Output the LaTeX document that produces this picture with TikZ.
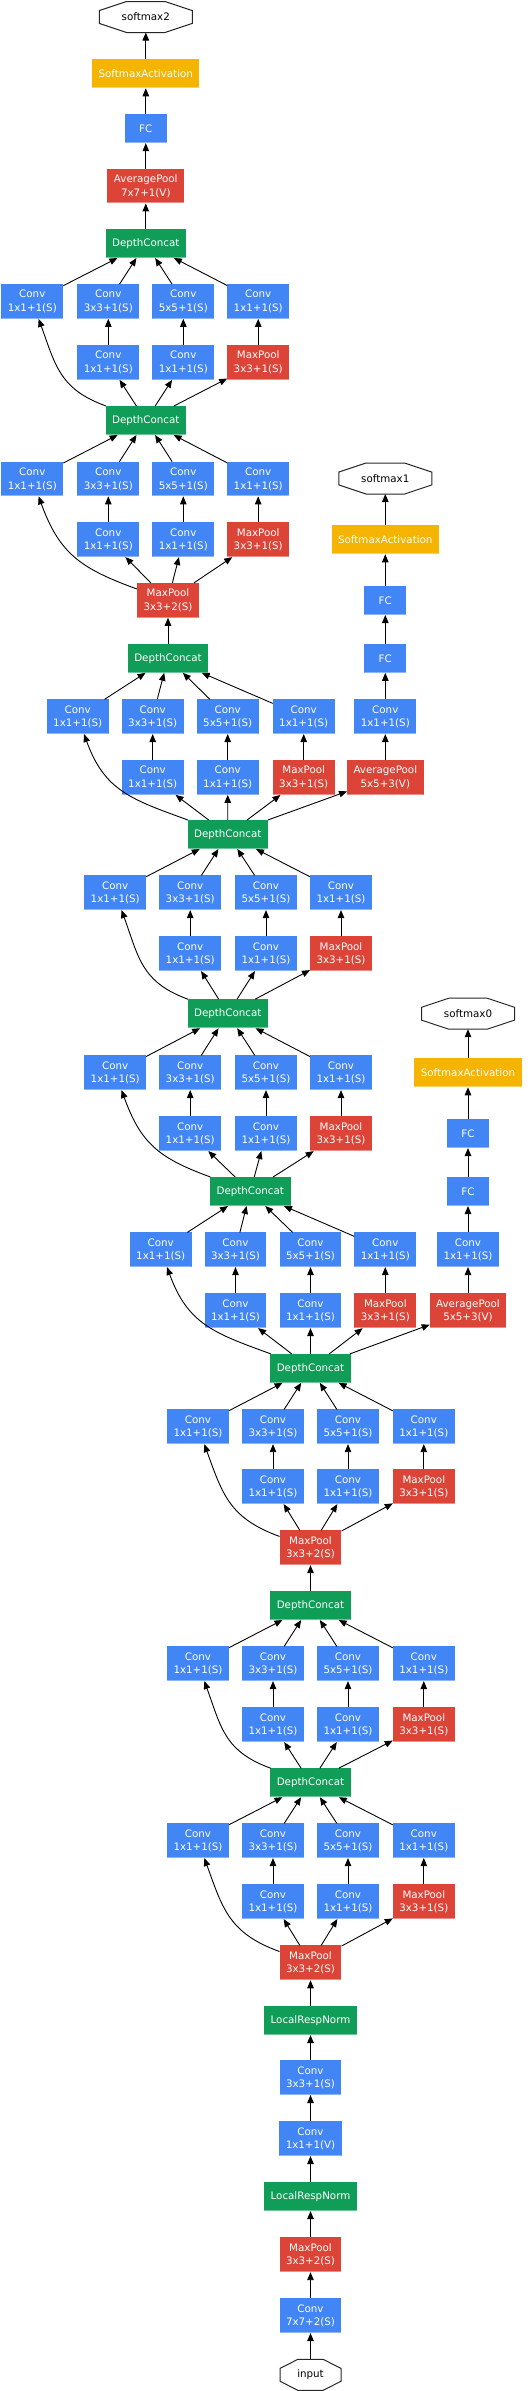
\documentclass[tikz,border=0pt]{standalone}
\usepackage{fontspec}
\setmainfont{DejaVu Sans}
\usepackage{tikz}
\usetikzlibrary{arrows.meta,calc}
\definecolor{gblue}{HTML}{4285F4}
\definecolor{gred}{HTML}{DB4437}
\definecolor{ggreen}{HTML}{0F9D58}
\definecolor{gyellow}{HTML}{F4B400}
\tikzset{
  layer/.style={rectangle,text=white,inner xsep=6.5pt,inner ysep=6pt,minimum width=42pt,
    minimum height=29pt,align=center,outer sep=0pt,
    path picture={\fill[white,opacity=0.4] (path picture bounding box.south west)
      rectangle ([yshift=1.2pt]path picture bounding box.south east);}},
  conv/.style={layer,fill=gblue},
  pool/.style={layer,fill=gred},
  concat/.style={layer,fill=ggreen},
  act/.style={layer,fill=gyellow},
  blob/.style={minimum width=#1,minimum height=31pt,inner sep=0pt,outer sep=0pt,text=black},
  octline/.style={draw=black!85,line width=1pt}
}
\newcommand{\drawoct}[1]{%
  \draw[octline] ($(#1.north west)!0.293!(#1.north east)$) -- ($(#1.north west)!0.707!(#1.north east)$)
    -- ($(#1.north east)!0.293!(#1.south east)$) -- ($(#1.north east)!0.707!(#1.south east)$)
    -- ($(#1.south east)!0.293!(#1.south west)$) -- ($(#1.south east)!0.707!(#1.south west)$)
    -- ($(#1.south west)!0.293!(#1.north west)$) -- ($(#1.south west)!0.707!(#1.north west)$) -- cycle;}
\newcommand{\inception}[9]{%
  \node[conv] (#1c1) at (#2,-#6) {Conv\\1x1+1(S)};
  \node[conv] (#1c3) at (#3,-#6) {Conv\\3x3+1(S)};
  \node[conv] (#1c5) at (#4,-#6) {Conv\\5x5+1(S)};
  \node[conv] (#1cp) at (#5,-#6) {Conv\\1x1+1(S)};
  \node[conv] (#1r3) at (#3,-#7) {Conv\\1x1+1(S)};
  \node[conv] (#1r5) at (#4,-#7) {Conv\\1x1+1(S)};
  \node[pool] (#1mp) at (#5,-#7) {MaxPool\\3x3+1(S)};
  \draw[->] (#8) to[out=160,in=-70,looseness=1.15] (#1c1);
  \draw[->] (#8) -- (#1r3);
  \draw[->] (#8) -- (#1r5);
  \draw[->] (#8) -- (#1mp);
  \draw[->] (#1r3) -- (#1c3);
  \draw[->] (#1r5) -- (#1c5);
  \draw[->] (#1mp) -- (#1cp);
  \foreach \n in {c1,c3,c5,cp} \draw[->] (#1\n) -- (#9);
}

\begin{document}
\begin{tikzpicture}[x=1pt,y=1pt,font=\fontsize{10.3}{13.7}\selectfont,
    line width=0.9pt,>={Triangle[length=8pt,width=6.5pt]}]
	\useasboundingbox (0,0) rectangle (530,-2391);
	% stem
	\node[blob=61pt] (input) at (310.5,-2374.8) {input};
	\node[conv] (cv0) at (310.5,-2315.7) {Conv\\7x7+2(S)};
	\node[pool] (mp1) at (310.5,-2254.7) {MaxPool\\3x3+2(S)};
	\node[concat] (lrn1) at (310.5,-2196.5) {LocalRespNorm};
	\node[conv] (cv1) at (310.5,-2138.7) {Conv\\1x1+1(V)};
	\node[conv] (cv2) at (310.5,-2077.7) {Conv\\3x3+1(S)};
	\node[concat] (lrn2) at (310.5,-2020.5) {LocalRespNorm};
	\node[pool] (mp2) at (310.5,-1962.8) {MaxPool\\3x3+2(S)};
	\node[concat] (dc1) at (310.5,-1782.7) {DepthConcat};
	\node[concat] (dc2) at (310.5,-1605.5) {DepthConcat};
	\node[pool] (mp3) at (310.5,-1547.7) {MaxPool\\3x3+2(S)};
	\node[concat] (dc3) at (310.5,-1368.3) {DepthConcat};
	\node[concat] (dc4) at (250.3,-1191.5) {DepthConcat};
	\node[concat] (dc5) at (227.8,-1013.7) {DepthConcat};
	\node[concat] (dc6) at (227.8,-834.5) {DepthConcat};
	\node[concat] (dc7) at (168,-658.3) {DepthConcat};
	\node[pool] (mp4) at (168,-600.3) {MaxPool\\3x3+2(S)};
	\node[concat] (dc8) at (145.8,-420.5) {DepthConcat};
	\node[concat] (dc9) at (145.8,-243.5) {DepthConcat};
	\node[pool] (ap2) at (145.8,-186) {AveragePool\\7x7+1(V)};
	\node[conv] (fc2) at (145.8,-128.7) {FC};
	\node[act] (sa2) at (145.8,-73.8) {SoftmaxActivation};
	\node[blob=93pt] (softmax2) at (145.8,-17) {softmax2};
	% side heads
	\node[pool] (aux0pool) at (468,-1310.7) {AveragePool\\5x5+3(V)};
	\node[conv] (aux0conv) at (468,-1249.7) {Conv\\1x1+1(S)};
	\node[conv] (aux0fca) at (468,-1191.5) {FC};
	\node[conv] (aux0fcb) at (468,-1133.5) {FC};
	\node[act] (aux0act) at (468,-1072.8) {SoftmaxActivation};
	\node[blob=93pt] (softmax0) at (468,-1013.7) {softmax0};
	\node[pool] (aux1pool) at (385.3,-777.5) {AveragePool\\5x5+3(V)};
	\node[conv] (aux1conv) at (385.3,-716.7) {Conv\\1x1+1(S)};
	\node[conv] (aux1fca) at (385.3,-658.3) {FC};
	\node[conv] (aux1fcb) at (385.3,-600.5) {FC};
	\node[act] (aux1act) at (385.3,-539.8) {SoftmaxActivation};
	\node[blob=93pt] (softmax1) at (385.3,-478.5) {softmax1};
	\drawoct{input}
	\drawoct{softmax0}
	\drawoct{softmax1}
	\drawoct{softmax2}
	\draw[->] (input)--(cv0);
	\draw[->] (cv0)--(mp1);
	\draw[->] (mp1)--(lrn1);
	\draw[->] (lrn1)--(cv1);
	\draw[->] (cv1)--(cv2);
	\draw[->] (cv2)--(lrn2);
	\draw[->] (lrn2)--(mp2);
	\draw[->] (dc2)--(mp3);
	\draw[->] (dc7)--(mp4);
	\draw[->] (dc9)--(ap2);
	\draw[->] (ap2)--(fc2);
	\draw[->] (fc2)--(sa2);
	\draw[->] (sa2)--(softmax2);
	\draw[->] (dc3)--(aux0pool);
	\draw[->] (aux0pool)--(aux0conv);
	\draw[->] (aux0conv)--(aux0fca);
	\draw[->] (aux0fca)--(aux0fcb);
	\draw[->] (aux0fcb)--(aux0act);
	\draw[->] (aux0act)--(softmax0);
	\draw[->] (dc6)--(aux1pool);
	\draw[->] (aux1pool)--(aux1conv);
	\draw[->] (aux1conv)--(aux1fca);
	\draw[->] (aux1fca)--(aux1fcb);
	\draw[->] (aux1fcb)--(aux1act);
	\draw[->] (aux1act)--(softmax1);
	% inception blocks
	\inception{m1}{198}{273}{348}{423.8}{1840.7}{1901.7}{mp2}{dc1}
	\inception{m2}{198}{273}{348}{423.8}{1663.7}{1724.7}{dc1}{dc2}
	\inception{m3}{198}{273}{348}{423.8}{1426.8}{1486.7}{mp3}{dc3}
	\inception{m4}{160.7}{235.5}{310.5}{385.3}{1249.7}{1310.7}{dc3}{dc4}
	\inception{m5}{115.2}{190.2}{266}{341}{1072.7}{1133.7}{dc4}{dc5}
	\inception{m6}{115.2}{190.2}{266}{341}{892.7}{953.7}{dc5}{dc6}
	\inception{m7}{77.7}{152.7}{227.7}{303.7}{716.7}{777.5}{dc6}{dc7}
	\inception{m8}{32.3}{108.3}{183.3}{258.2}{479}{539.7}{mp4}{dc8}
	\inception{m9}{32.3}{108.3}{183.3}{258.2}{301.5}{362.5}{dc8}{dc9}
\end{tikzpicture}
\end{document}
